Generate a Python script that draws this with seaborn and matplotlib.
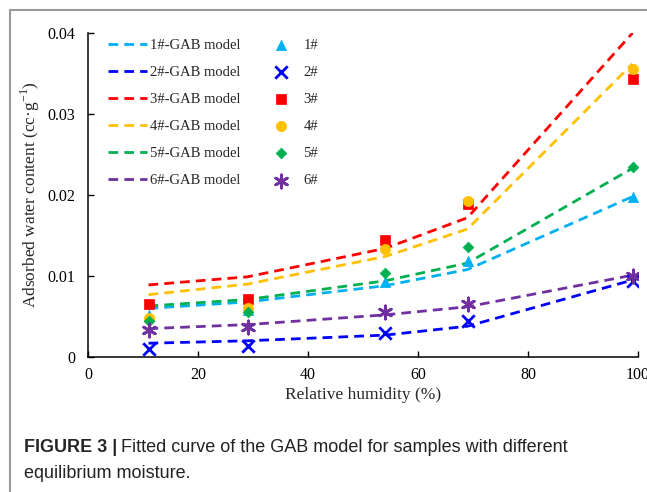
import matplotlib
matplotlib.use("Agg")
import matplotlib.pyplot as plt
import seaborn as sns
from matplotlib.lines import Line2D

# Relative humidity levels (%)
rh = [11, 29, 54, 69, 99]

# Measured adsorbed water content (cc/g)
s1 = [0.0052, 0.0058, 0.0092, 0.0118, 0.0197]
s2 = [0.0010, 0.0013, 0.0030, 0.0044, 0.0094]
s3 = [0.0065, 0.0072, 0.0144, 0.0189, 0.0343]
s4 = [0.0048, 0.0060, 0.0133, 0.0192, 0.0356]
s5 = [0.0045, 0.0055, 0.0104, 0.0136, 0.0234]
s6 = [0.0033, 0.0037, 0.0055, 0.0066, 0.0100]

# GAB model fits
m1 = [0.0060, 0.0068, 0.0088, 0.0108, 0.0198]
m2 = [0.0017, 0.0020, 0.0027, 0.0038, 0.0095]
m3 = [0.0089, 0.0099, 0.0134, 0.0172, 0.0400]
m4 = [0.0077, 0.0090, 0.0124, 0.0158, 0.0362]
m5 = [0.0063, 0.0071, 0.0094, 0.0116, 0.0233]
m6 = [0.0035, 0.0040, 0.0052, 0.0062, 0.0101]

names = ["1#", "2#", "3#", "4#", "5#", "6#"]
measured = [s1, s2, s3, s4, s5, s6]
models = [m1, m2, m3, m4, m5, m6]
colors = ["#00B0F0", "#0000FF", "#FF0000", "#FFC000", "#00B050", "#7030A0"]
markers = ["^", "x", "s", "o", "D", (6, 2, 0)]
msizes = [55, 80, 55, 55, 30, 90]

sns.set_theme(style="ticks")
plt.rcParams["font.family"] = ["Liberation Serif", "DejaVu Serif"]
plt.rcParams["mathtext.fontset"] = "custom"
plt.rcParams["mathtext.rm"] = "Liberation Serif"

fig = plt.figure(figsize=(6.47, 4.92), dpi=100)
ax = fig.add_axes([88 / 647, 1 - 357 / 492, 550 / 647, 324 / 492])

for name, m, c in zip(names, models, colors):
    sns.lineplot(x=rh, y=m, color=c, linestyle=(0, (3.5, 2.2)), lw=2,
                 label=f"{name}-GAB model", ax=ax)

for name, s, c, mk, sz in zip(names, measured, colors, markers, msizes):
    sns.scatterplot(x=rh, y=s, color=c, marker=mk, s=sz, edgecolor=c,
                    linewidth=2 if mk in ("x", (6, 2, 0)) else 0.5,
                    label=name, ax=ax, zorder=3)

ax.set_xlim(0, 100)
ax.set_ylim(0, 0.04)
ax.set_xticks([0, 20, 40, 60, 80, 100])
ax.set_yticks([0, 0.01, 0.02, 0.03, 0.04])
ax.set_yticklabels(["0", "0.01", "0.02", "0.03", "0.04"])
ax.tick_params(direction="in", length=4, width=1, labelsize=11.5, colors="black")
ax.tick_params(axis="x", pad=7)
ax.tick_params(axis="y", pad=9)
for sp in ["top", "right"]:
    ax.spines[sp].set_visible(False)
for sp in ["left", "bottom"]:
    ax.spines[sp].set_linewidth(1.1)
    ax.spines[sp].set_color("black")

ax.set_xlabel("Relative humidity (%)", fontsize=12.5, labelpad=3)
ax.set_ylabel(r"Adsorbed water content (cc·g$^{-1}$)", fontsize=12.5, labelpad=4)

handles, labels = ax.get_legend_handles_labels()
ax.legend(handles, labels, ncol=2, frameon=False, loc="upper left",
          bbox_to_anchor=(0.036, 0.982), borderaxespad=0, borderpad=0,
          fontsize=10.5, handlelength=2.7, handletextpad=0.2,
          labelspacing=0.95, columnspacing=1.4)

# outer frame lines
fig.add_artist(Line2D([10 / 647, 10 / 647], [0, 1 - 10 / 492], color="#999999", lw=1.5))
fig.add_artist(Line2D([10 / 647, 1], [1 - 10 / 492, 1 - 10 / 492], color="#999999", lw=1.5))

# caption
cap_font = ["Liberation Sans", "DejaVu Sans"]
t1 = fig.text(24 / 647, 1 - 447 / 492, "FIGURE 3 |", fontsize=13, fontweight="bold",
              family=cap_font, va="center")
fig.canvas.draw()
bb = t1.get_window_extent()
fig.text(bb.x1 / fig.bbox.width + 4 / 647, 1 - 447 / 492,
         "Fitted curve of the GAB model for samples with different",
         fontsize=13, family=cap_font, va="center", color="#222222")
fig.text(24 / 647, 1 - 473 / 492, "equilibrium moisture.", fontsize=13,
         family=cap_font, va="center", color="#222222")

fig.savefig("out.png", dpi=100)
